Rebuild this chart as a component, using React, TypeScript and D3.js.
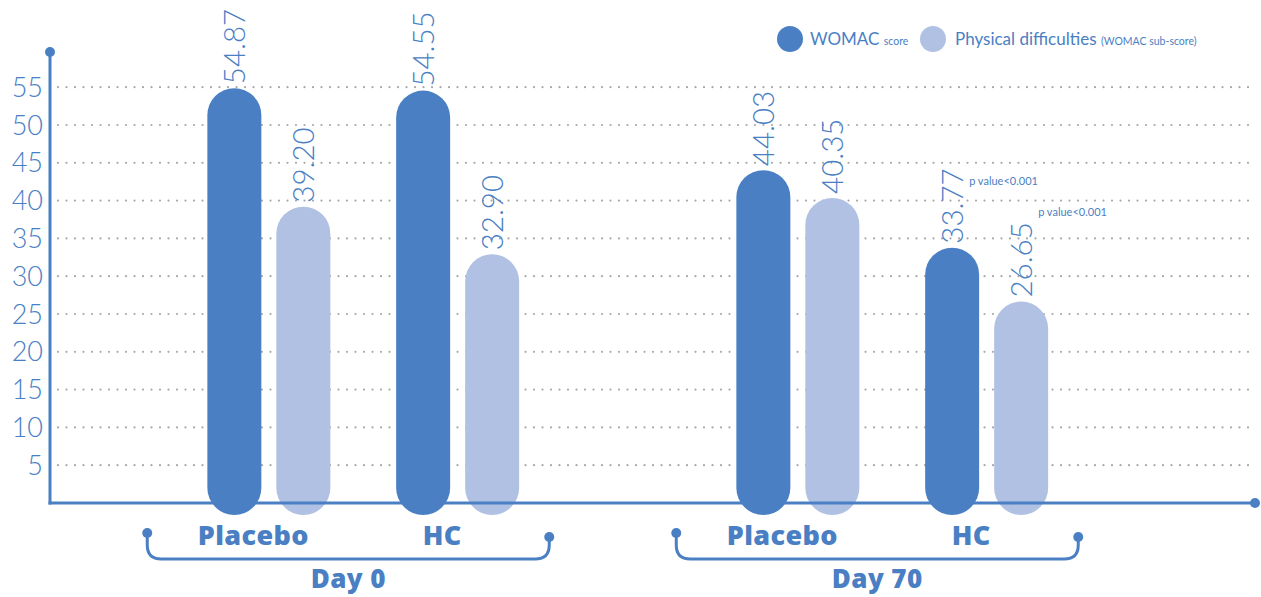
import React from "react";
import * as d3 from "d3";

const days = ["Day 0", "Day 70"];
const groups = ["Placebo", "HC"];
const seriesNames = ["WOMAC", "Physical difficulties"];
const womac = [54.87, 54.55, 44.03, 33.77];
const physical = [39.2, 32.9, 40.35, 26.65];
const womacLabels = ["54.87", "54.55", "44.03", "33.77"];
const physicalLabels = ["39.20", "32.90", "40.35", "26.65"];
const yTicks = [5, 10, 15, 20, 25, 30, 35, 40, 45, 50, 55];
const pValueText = "p value<0.001";

const W = 1261;
const H = 597;
const DARK = "#4a80c3";
const LIGHT = "#b0c1e3";
const TEXT = "#4a80c3";
const LIGHTFONT = "Lato, 'Open Sans', sans-serif";
const BOLDFONT = "'Open Sans', Lato, sans-serif";

export default function App() {
  const y = d3.scaleLinear().domain([0, 55]).range([503, 87.2]);
  const dayX = d3.scalePoint<string>().domain(days).range([363.25, 892.25]);
  const groupX = d3.scalePoint<string>().domain(groups).range([-94.4, 94.4]);
  const seriesX = d3.scalePoint<string>().domain(seriesNames).range([-34.5, 34.5]);
  const barW = 54;
  const axisY = y(0);
  const axisX = 50;

  type Bar = { key: string; cx: number; v: number; label: string; color: string; idx: number; s: number };
  const bars: Bar[] = [];
  const groupCenters: { day: string; g: string; cx: number }[] = [];
  days.forEach((d, di) => {
    groups.forEach((g, gi) => {
      const i = di * 2 + gi;
      const c = (dayX(d) as number) + (groupX(g) as number);
      groupCenters.push({ day: d, g, cx: c });
      bars.push({ key: `w${i}`, cx: c + (seriesX(seriesNames[0]) as number), v: womac[i], label: womacLabels[i], color: DARK, idx: i, s: 0 });
      bars.push({ key: `p${i}`, cx: c + (seriesX(seriesNames[1]) as number), v: physical[i], label: physicalLabels[i], color: LIGHT, idx: i, s: 1 });
    });
  });

  const pOffsets = [-63, -86];
  const pBars = bars.filter((b) => b.idx === 3);

  const bracket = (x0: number, x1: number) => {
    const yTopL = 533;
    const yTopR = 537;
    const yB = 559;
    const r = 14;
    const p = d3.path();
    p.moveTo(x0, yTopL);
    p.lineTo(x0, yB - r);
    p.quadraticCurveTo(x0, yB, x0 + r, yB);
    p.lineTo(x1 - r, yB);
    p.quadraticCurveTo(x1, yB, x1, yB - r);
    p.lineTo(x1, yTopR);
    return p.toString();
  };

  return (
    <svg width={W} height={H} style={{ position: "absolute", left: 0, top: 0, display: "block" }}>
      <rect width={W} height={H} fill="#fff" />
      {/* grid */}
      {yTicks.map((t) => (
        <line key={t} x1={58} x2={1250} y1={y(t)} y2={y(t)} stroke="#a8a8a8" strokeWidth={2.2}
          strokeDasharray="0 8.5" strokeLinecap="round" />
      ))}
      {/* tick labels */}
      {yTicks.map((t) => (
        <text key={"t" + t} x={43} y={y(t) + 9.5} textAnchor="end" fontFamily={LIGHTFONT} fontWeight={300}
          fontSize={27} fill={TEXT}>{t}</text>
      ))}
      {/* bars */}
      {bars.map((b) => (
        <rect key={b.key} x={b.cx - barW / 2} y={y(b.v)} width={barW} height={axisY + 12 - y(b.v)}
          rx={barW / 2} ry={barW / 2} fill={b.color} />
      ))}
      {/* value labels */}
      {bars.map((b) => (
        <text key={"l" + b.key} transform={`translate(${b.cx + 11},${y(b.v) - 4}) rotate(-90)`}
          fontFamily={LIGHTFONT} fontWeight={300} fontSize={29.5} fill={TEXT}>{b.label}</text>
      ))}
      {/* p values */}
      {pBars.map((b) => (
        <text key={"pv" + b.key} x={b.cx + 17} y={y(b.v) + pOffsets[b.s]} fontFamily={LIGHTFONT}
          fontSize={11} fill={TEXT}>{pValueText}</text>
      ))}
      {/* axes */}
      <line x1={axisX} x2={axisX} y1={52} y2={axisY + 1.5} stroke={DARK} strokeWidth={3} />
      <circle cx={axisX} cy={52} r={5} fill={DARK} />
      <line x1={axisX - 1.5} x2={1255} y1={axisY} y2={axisY} stroke={DARK} strokeWidth={3} />
      <circle cx={1255} cy={axisY} r={5} fill={DARK} />
      {/* group labels */}
      {groupCenters.map((gc, i) => (
        <text key={"g" + i} x={gc.cx - 15.5} y={545} textAnchor="middle" fontFamily={BOLDFONT}
          fontWeight={800} fontSize={27} letterSpacing={0.4} fill={TEXT}>{gc.g}</text>
      ))}
      {/* brackets */}
      {days.map((d) => {
        const c = dayX(d) as number;
        const x0 = c - 216;
        const x1 = c + 186;
        return (
          <g key={"b" + d}>
            <path d={bracket(x0, x1)} fill="none" stroke={DARK} strokeWidth={3} />
            <circle cx={x0} cy={533} r={5} fill={DARK} />
            <circle cx={x1} cy={537} r={5} fill={DARK} />
            <text x={(x0 + x1) / 2} y={588} textAnchor="middle" fontFamily={BOLDFONT} fontWeight={800}
              fontSize={26} letterSpacing={0.4} fill={TEXT}>{d}</text>
          </g>
        );
      })}
      {/* legend */}
      <circle cx={790} cy={39} r={13} fill={DARK} />
      <text x={810} y={45} fontFamily={LIGHTFONT} fontSize={17} fill={TEXT}>
        WOMAC <tspan fontSize={10.5}>score</tspan>
      </text>
      <circle cx={933} cy={39} r={13} fill={LIGHT} />
      <text x={955} y={45} fontFamily={LIGHTFONT} fontSize={17} fill={TEXT}>
        Physical difficulties <tspan fontSize={10.5}>(WOMAC sub-score)</tspan>
      </text>
    </svg>
  );
}
